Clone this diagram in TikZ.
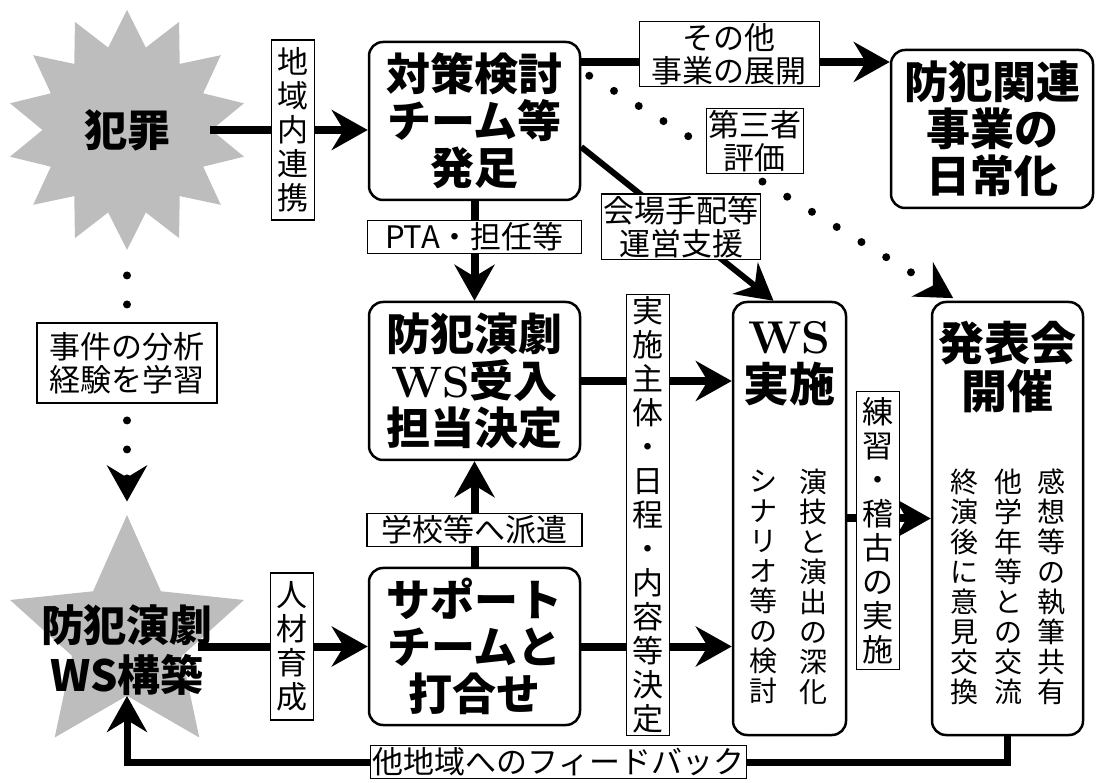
\documentclass[tikz,border=0pt]{standalone}
\usepackage{fontspec}
\newfontfamily\cjk{Noto Sans CJK JP}
\usetikzlibrary{arrows.meta,positioning,shapes.geometric}
\definecolor{burst}{HTML}{BDBDBD}

\begin{document}
\begin{tikzpicture}[x=1pt,y=-1pt,
  stepbox/.style={draw,line width=2.5pt,rounded corners=14pt,inner sep=0pt,align=center,
    font=\cjk\bfseries\fontsize{44}{47}\selectfont},
  title/.style={align=center,inner sep=0pt,font=\cjk\bfseries\fontsize{46}{48}\selectfont},
  startext/.style={align=center,inner sep=0pt,font=\cjk\bfseries\fontsize{43}{50}\selectfont},
  tag/.style={draw,solid,fill=white,line width=1.2pt,inner sep=2pt,align=center,
    font=\cjk\fontsize{31}{33}\selectfont},
  vtag/.style={tag,font=\cjk\fontsize{31}{34}\selectfont,minimum width=43pt},
  col/.style={align=center,inner sep=0pt,font=\cjk\fontsize{28}{30}\selectfont},
  flow/.style={line width=8pt,-{Stealth[length=36pt,width=40pt,inset=12pt]}},
  dotflow/.style={flow,line cap=round,dash pattern=on 0pt off 29pt}]
  \useasboundingbox (0,0) rectangle (1096,783);

  % stars
  \node[star,star points=14,star point ratio=1.42,minimum size=240pt,fill=burst,inner sep=0pt] (crime) at (127,130) {};
  \node[startext] (crimename) at (crime.center) {犯罪};
  \node[star,star points=5,star point ratio=2.13,minimum size=246pt,fill=burst,inner sep=0pt] (wsstar) at (127,638) {};
  \node[startext] (wsstarname) at ([yshift=-12pt]wsstar.center) {防犯演劇\\WS構築};

  % boxes
  \node[stepbox,minimum width=211pt,minimum height=158pt] (team) at (474.5,121) {対策検討\\チーム等\\発足};
  \node[stepbox,minimum width=211pt,minimum height=158pt] (accept) at (474.5,381) {防犯演劇\\{\rmfamily WS}受入\\担当決定};
  \node[stepbox,minimum width=211pt,minimum height=157pt] (support) at (474.5,646.5) {サポート\\チームと\\打合せ};
  \node[stepbox,minimum width=202pt,minimum height=158pt] (routine) at (992,129) {防犯関連\\事業の\\日常化};
  \node[stepbox,minimum width=113pt,minimum height=433pt] (ws) at (789.5,518.5) {};
  \node[stepbox,minimum width=151pt,minimum height=433pt] (show) at (1007.5,518.5) {};
  \node[title,below=20pt of ws.north] (wstitle) {{\rmfamily WS}\\実施};
  \node[title,below=20pt of show.north] (showtitle) {発表会\\開催};

  % columns
  \node[col] (wsdepth) at (813,587) {演\\技\\と\\演\\出\\の\\深\\化};
  \node[col] (wsscript) at (763,587) {シ\\ナ\\リ\\オ\\等\\の\\検\\討};
  \node[col] (showshare) at (1051,587) {感\\想\\等\\の\\執\\筆\\共\\有};
  \node[col] (showmeet) at (1008,587) {他\\学\\年\\等\\と\\の\\交\\流};
  \node[col] (showtalk) at (964,587) {終\\演\\後\\に\\意\\見\\交\\換};

  % connectors
  \draw[flow] ([xshift=83pt]crime.center) -- (team.west |- crime.center)
    node[vtag,pos=0.525,minimum height=180pt] (link) {地\\域\\内\\連\\携};
  \draw[flow] (team) -- (accept) node[tag,pos=0.36,minimum width=214pt] (pta) {PTA・担任等};
  \draw[flow] (support) -- (accept) node[tag,pos=0.35,minimum width=215pt] (dispatch) {学校等へ派遣};
  \draw[dotflow,shorten <=25pt,shorten >=13pt] (crime.south) -- (wsstar.north)
    node[tag,pos=0.426,minimum width=180pt,minimum height=80pt] (lesson) {事件の分析\\経験を学習};
  \draw[flow] ([xshift=-170pt]support.west) -- (support.west)
    node[vtag,pos=0.555,minimum height=147pt] (training) {人\\材\\育\\成};
  \draw[flow] (accept.east) -- (accept.east -| ws.west);
  \draw[flow] (support.east) -- (support.east -| ws.west);
  \node[vtag,minimum height=440pt] (plan) at (648,515) {実\\施\\主\\体\\・\\日\\程\\・\\内\\容\\等\\決\\定};
  \draw[flow] (ws) -- (show)
    node[vtag,pos=0.37,yshift=-12pt,minimum height=278pt] (rehearsal) {練\\習\\・\\稽\\古\\の\\実\\施};

  \coordinate (teamtop) at ([yshift=59pt]team.east);
  \draw[flow] (teamtop) -- (teamtop -| routine.west)
    node[tag,pos=0.48,yshift=8pt,minimum width=180pt] (expand) {その他\\事業の展開};
  \coordinate (evalstart) at ([xshift=8pt,yshift=-35pt]team.north east);
  \coordinate (evalend) at ([xshift=-50pt]show.north);
  \draw[dotflow,shorten >=5pt] (evalstart) -- (evalend)
    node[tag,pos=0.45,yshift=36pt] (review) {第三者\\評価};
  \coordinate (venuestart) at ([yshift=-26pt]team.east);
  \draw[flow,line width=6pt] (venuestart) -- ([xshift=-16pt]ws.north)
    node[tag,pos=0.52] (venue) {会場手配等\\運営支援};

  \draw[flow,line width=7pt] (show.south) -- (show.south |- 0,762)
    -- node[tag,pos=0.51] (feedback) {他地域へのフィードバック} (wsstar.south |- 0,762)
    -- (wsstar.south);
\end{tikzpicture}
\end{document}
